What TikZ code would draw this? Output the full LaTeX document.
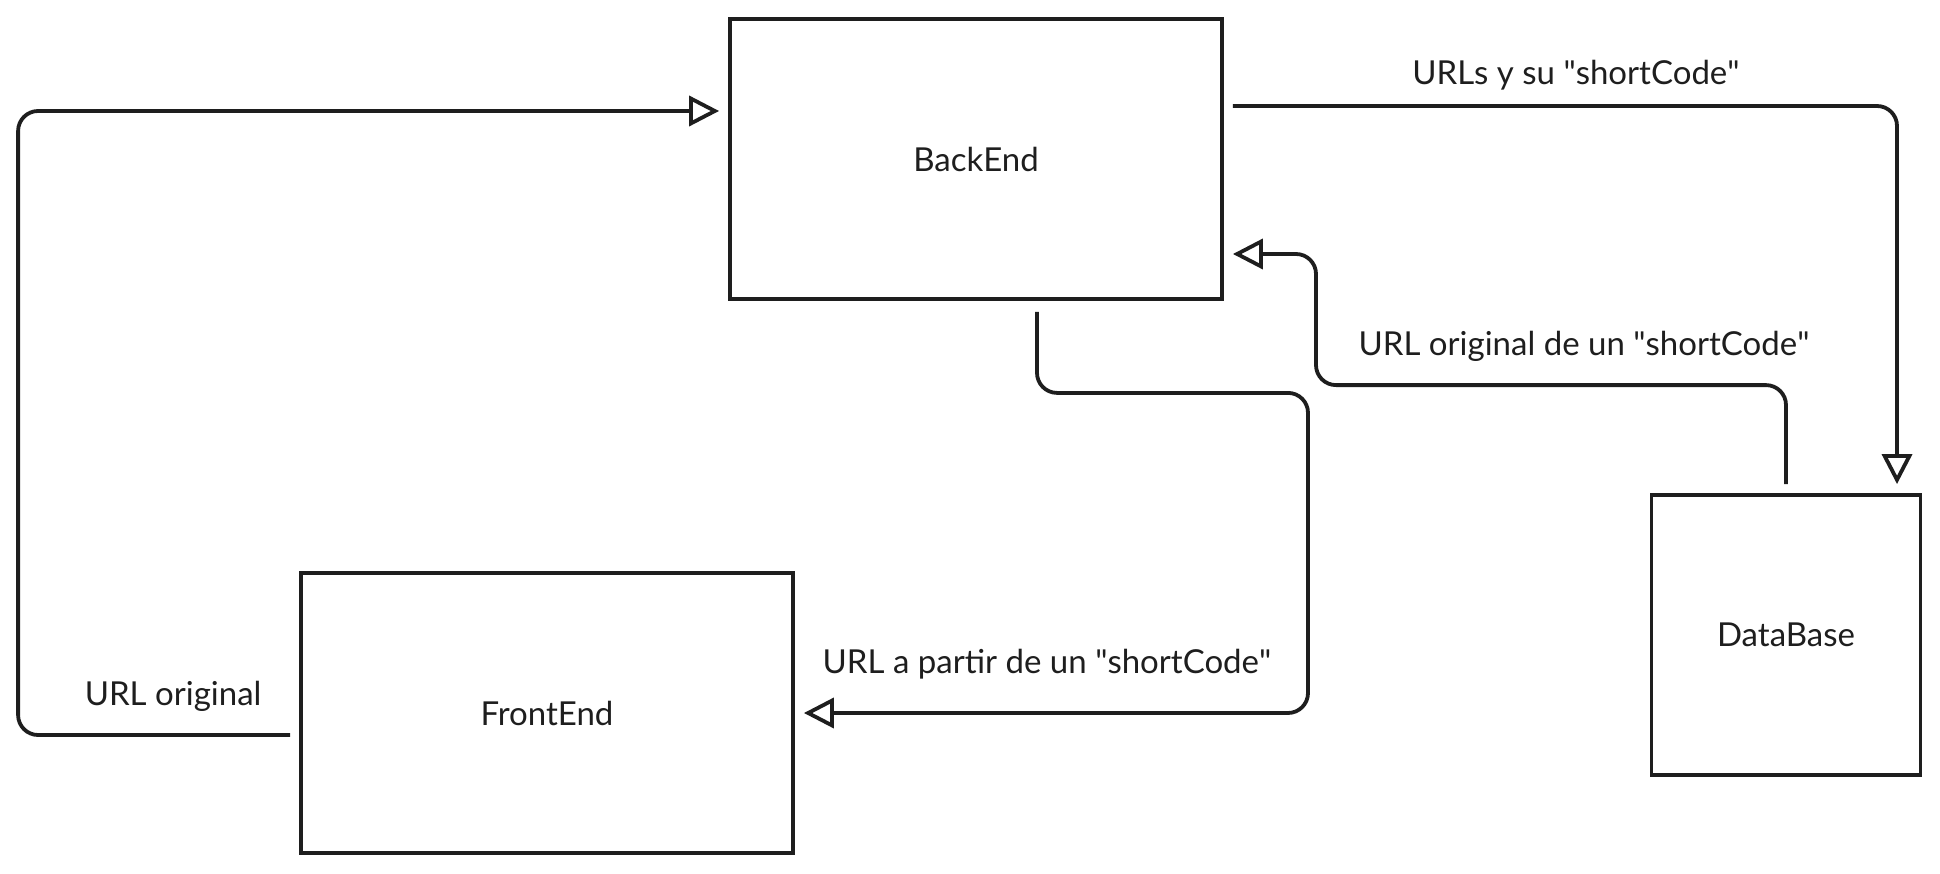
\documentclass[tikz,border=0pt]{standalone}
\usepackage{fontspec}
\setmainfont{Lato}
\usetikzlibrary{arrows.meta,positioning}
\definecolor{ink}{HTML}{1E1E1E}
\newcommand{\qt}[1]{\textquotedbl#1\textquotedbl}

\begin{document}
\begin{tikzpicture}[on grid,color=ink,line width=3.8pt,
    font=\fontsize{33}{40}\selectfont,
    block/.style={draw,rectangle,minimum width=492pt,minimum height=280pt,inner sep=0pt},
    flow/.style={-{Triangle[open,length=30pt,width=30pt]},rounded corners=20pt,line join=round},
    lbl/.style={above=#1},lbl/.default=6pt]
      \useasboundingbox (0,0) rectangle (1940pt,-874pt);

      \node[block]                       (be) at (976pt,-159pt)                    {BackEnd};
      \node[block]                       (fe) [below left=554pt and 429pt of be]  {FrontEnd};
      \node[block,minimum width=269pt]   (db) [below right=476pt and 810pt of be] {DataBase};

      \draw[flow] ([xshift=-9pt,yshift=-22pt]fe.west) -- node[lbl=18pt,xshift=19pt] {URL original} ++(-272pt,0)
                  |- ([xshift=-9pt,yshift=48pt]be.west);
      \draw[flow] ([xshift=9pt,yshift=53pt]be.east) -| node[pos=0.25,lbl=11pt,xshift=11pt] {URLs y su \qt{shortCode}}
                  ([xshift=111pt,yshift=9pt]db.north);
      \draw[flow] ([yshift=9pt]db.north) -- ++(0,99pt) -- node[lbl=18pt,xshift=33pt] {URL original de un \qt{shortCode}} ++(-470pt,0)
                  |- ([xshift=9pt,yshift=-95pt]be.east);
      \draw[flow] ([xshift=61pt,yshift=-11pt]be.south) -- ++(0,-81pt) -- ++(271pt,0)
                  |- node[pos=0.75,lbl=29pt,xshift=-9pt] {URL a partir de un \qt{shortCode}} ([xshift=9pt]fe.east);
\end{tikzpicture}
\end{document}
